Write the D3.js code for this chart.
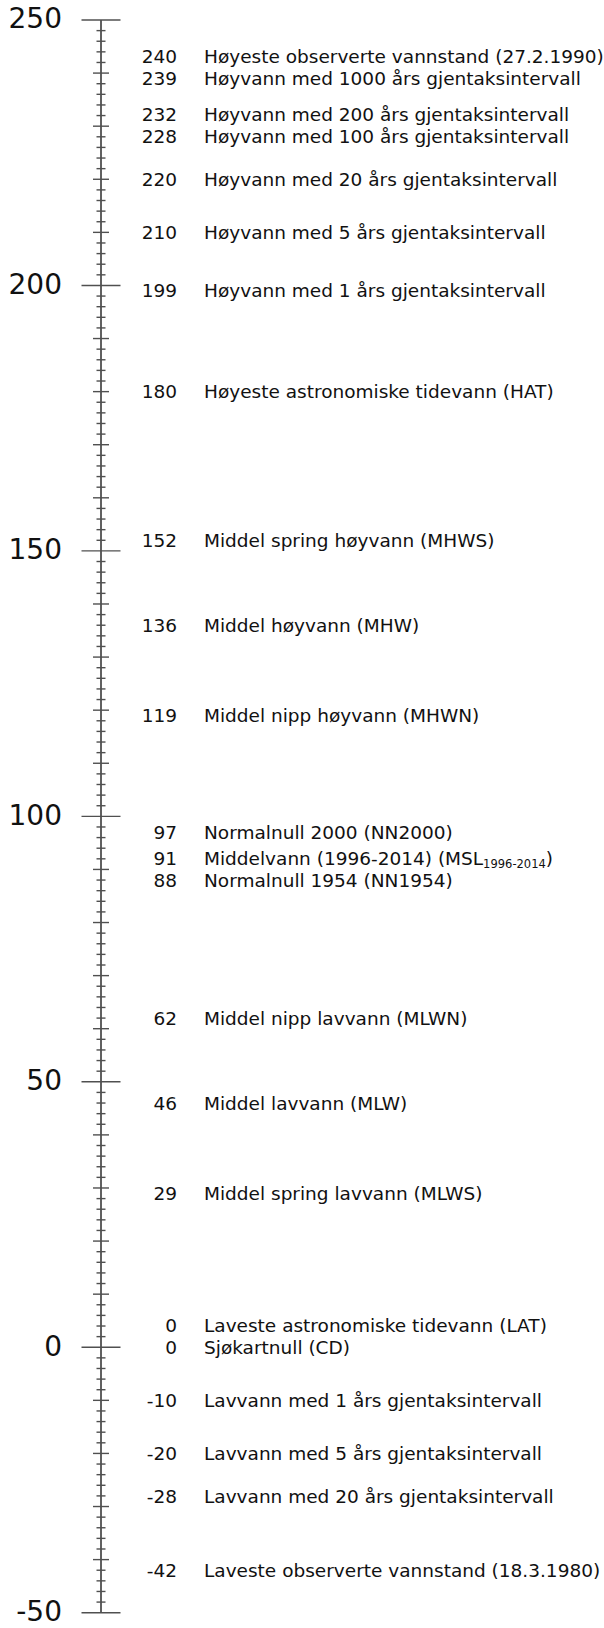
<!DOCTYPE html>
<html>
<head>
<meta charset="utf-8">
<script src="https://cdn.jsdelivr.net/npm/d3@7"></script>
<style>
  body { margin: 0; background: #fff; }
  svg { display: block; font-family: "DejaVu Sans", Verdana, sans-serif; }
</style>
</head>
<body>
<div id="chart"></div>
<script>
var width = 604,
    height = 1628;

// water levels (cm above chart datum), top to bottom
var levels = [240, 239, 232, 228, 220, 210, 199, 180, 152, 136, 119, 97, 91, 88, 62, 46, 29, 0, 0, -10, -20, -28, -42];

var names = [
  "Høyeste observerte vannstand (27.2.1990)",
  "Høyvann med 1000 års gjentaksintervall",
  "Høyvann med 200 års gjentaksintervall",
  "Høyvann med 100 års gjentaksintervall",
  "Høyvann med 20 års gjentaksintervall",
  "Høyvann med 5 års gjentaksintervall",
  "Høyvann med 1 års gjentaksintervall",
  "Høyeste astronomiske tidevann (HAT)",
  "Middel spring høyvann (MHWS)",
  "Middel høyvann (MHW)",
  "Middel nipp høyvann (MHWN)",
  "Normalnull 2000 (NN2000)",
  "Middelvann (1996-2014) (MSL_{1996-2014})",
  "Normalnull 1954 (NN1954)",
  "Middel nipp lavvann (MLWN)",
  "Middel lavvann (MLW)",
  "Middel spring lavvann (MLWS)",
  "Laveste astronomiske tidevann (LAT)",
  "Sjøkartnull (CD)",
  "Lavvann med 1 års gjentaksintervall",
  "Lavvann med 5 års gjentaksintervall",
  "Lavvann med 20 års gjentaksintervall",
  "Laveste observerte vannstand (18.3.1980)"
];

var majorTicks = [-50, 0, 50, 100, 150, 200, 250];

var axisX = 101,
    minGap = 22;

var svg = d3.select("#chart").append("svg")
  .attr("width", width)
  .attr("height", height);

var y = d3.scaleLinear()
  .domain([-50, 250])
  .range([1612.7, 20]);

var axisColor = "#505050";

// main vertical line
svg.append("line")
  .attr("x1", axisX).attr("x2", axisX)
  .attr("y1", y(250)).attr("y2", y(-50))
  .style("stroke", axisColor)
  .style("stroke-width", 1.8);

// ticks every 2, longer every 10, longest every 50
var tickVals = y.ticks(150);
svg.selectAll("line.tick")
  .data(tickVals)
  .enter()
  .append("line")
  .attr("class", "tick")
  .attr("x1", function(d) { return axisX - half(d); })
  .attr("x2", function(d) { return axisX + half(d); })
  .attr("y1", function(d) { return y(d); })
  .attr("y2", function(d) { return y(d); })
  .style("stroke", axisColor)
  .style("stroke-width", 1.4);

function half(d) {
  if (d % 50 === 0) return 19.5;
  if (d % 10 === 0) return 8;
  return 4.5;
}

// big axis labels
svg.selectAll("text.major")
  .data(majorTicks)
  .enter()
  .append("text")
  .attr("class", "major")
  .attr("x", 62)
  .attr("y", function(d) { return y(d); })
  .attr("dy", "0.3em")
  .style("text-anchor", "end")
  .style("font-size", "28px")
  .style("fill", "#111")
  .text(function(d) { return d; });

// label positions: start at the value, push upward where they collide
var rows = levels.map(function(v, i) { return { v: v, name: names[i], ly: y(v) }; });
for (var i = rows.length - 2; i >= 0; i--) {
  if (rows[i + 1].ly - rows[i].ly < minGap) rows[i].ly = rows[i + 1].ly - minGap;
}

var g = svg.selectAll("g.row")
  .data(rows)
  .enter()
  .append("g")
  .attr("class", "row")
  .attr("transform", function(d) { return "translate(0," + d.ly + ")"; });

g.append("text")
  .attr("x", 177)
  .attr("dy", "0.36em")
  .style("text-anchor", "end")
  .style("font-size", "18.5px")
  .style("fill", "#111")
  .text(function(d) { return d.v; });

g.append("text")
  .attr("x", 204)
  .attr("dy", "0.36em")
  .style("font-size", "18.5px")
  .style("fill", "#111")
  .each(function(d) {
    var t = d3.select(this);
    var m = d.name.match(/^(.*)_\{(.*)\}(.*)$/);
    if (!m) { t.text(d.name); return; }
    t.append("tspan").text(m[1]);
    t.append("tspan").attr("dy", 3).style("font-size", "11.5px").text(m[2]);
    t.append("tspan").attr("dy", -3).text(m[3]);
  });
</script>
</body>
</html>
